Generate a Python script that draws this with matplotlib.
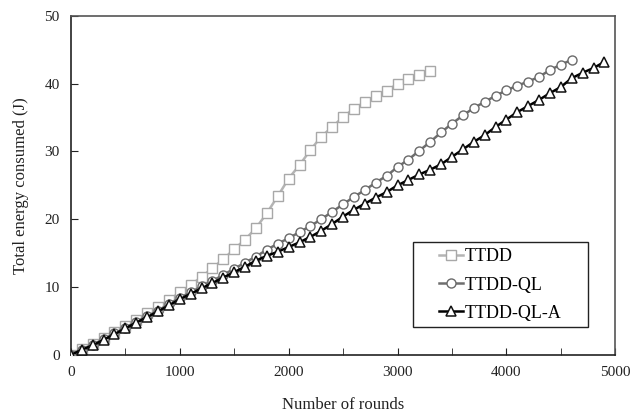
import numpy as np
import matplotlib
matplotlib.use("Agg")
import matplotlib.pyplot as plt
from matplotlib.ticker import MultipleLocator
from matplotlib.patches import Rectangle

plt.rcParams['font.family'] = ['Liberation Serif', 'DejaVu Serif']

rounds_ttdd = list(range(0, 3301, 100))
ttdd = [0, 0.8, 1.6, 2.5, 3.4, 4.3, 5.2, 6.1, 7.0, 8.1, 9.2, 10.3, 11.5, 12.8,
        14.1, 15.6, 17.0, 18.7, 20.9, 23.4, 26.0, 28.0, 30.2, 32.2, 33.6, 35.1,
        36.3, 37.3, 38.2, 38.9, 40.0, 40.7, 41.3, 41.9]

rounds_ql = list(range(0, 4601, 100))
ttdd_ql = [0, 0.75, 1.45, 2.3, 3.15, 4.0, 4.85, 5.7, 6.5, 7.5, 8.4, 9.2, 10.1,
           10.9, 11.8, 12.7, 13.6, 14.5, 15.5, 16.4, 17.2, 18.1, 19.0, 20.0,
           21.1, 22.2, 23.3, 24.3, 25.4, 26.4, 27.7, 28.8, 30.1, 31.4, 32.8,
           34.1, 35.3, 36.4, 37.3, 38.2, 39.0, 39.7, 40.3, 41.0, 42.0, 42.8, 43.5]

rounds_qla = list(range(0, 4901, 100))
ttdd_ql_a = [0, 0.75, 1.4, 2.2, 3.05, 3.9, 4.75, 5.55, 6.4, 7.3, 8.2, 9.0, 9.8,
             10.6, 11.4, 12.2, 13.0, 13.9, 14.6, 15.2, 15.9, 16.6, 17.4, 18.3,
             19.3, 20.4, 21.4, 22.3, 23.2, 24.0, 25.0, 25.8, 26.6, 27.3, 28.1,
             29.2, 30.3, 31.4, 32.4, 33.6, 34.7, 35.8, 36.7, 37.6, 38.6, 39.5,
             40.8, 41.6, 42.3, 43.2]

fig = plt.figure(figsize=(6.33, 4.16), dpi=100)
ax = fig.add_axes([0.112, 0.147, 0.86, 0.815])

ax.plot(rounds_ttdd, ttdd, color='#b4b4b4', lw=1.8, marker='s', ms=6.5,
        mfc='white', mec='#a8a8a8', mew=1.0, label='TTDD', zorder=2)
ax.plot(rounds_ql, ttdd_ql, color='#6e6e6e', lw=1.8, marker='o', ms=6.5,
        mfc='white', mec='#6a6a6a', mew=1.0, label='TTDD-QL', zorder=3)
ax.plot(rounds_qla, ttdd_ql_a, color='#000000', lw=1.8, marker='^', ms=7,
        mfc='white', mec='#111111', mew=1.1, label='TTDD-QL-A', zorder=4)

ax.set_xlim(0, 5000)
ax.set_ylim(0, 50)
ax.xaxis.set_major_locator(MultipleLocator(1000))
ax.xaxis.set_minor_locator(MultipleLocator(500))
ax.yaxis.set_major_locator(MultipleLocator(10))
ax.tick_params(axis='both', which='both', direction='in', labelsize=11,
               colors='#222222')
ax.tick_params(axis='x', which='major', length=5, pad=8)
ax.tick_params(axis='x', which='minor', length=5)
ax.tick_params(axis='y', which='major', length=5, pad=8)
ax.tick_params(top=False, right=False)

for s in ['left', 'bottom']:
    ax.spines[s].set_color('#222222')
    ax.spines[s].set_linewidth(1.2)
for s in ['top', 'right']:
    ax.spines[s].set_color('#555555')
    ax.spines[s].set_linewidth(1.2)

ax.set_xlabel('Number of rounds', fontsize=12, labelpad=13, color='#222222')
ax.set_ylabel('Total energy consumed (J)', fontsize=12, labelpad=11.5, color='#222222')

# legend frame
frame = Rectangle((0.629, 0.083), 0.32, 0.25, transform=ax.transAxes,
                  fill=True, facecolor='white', edgecolor='#222222', lw=1.0,
                  zorder=5)
ax.add_patch(frame)

leg = ax.legend(loc='center left', bbox_to_anchor=(0.676, 0.206), fontsize=13,
                frameon=False, handlelength=1.35, handletextpad=0.1,
                borderpad=0, labelspacing=0.62, borderaxespad=0)
leg.set_zorder(6)

fig.savefig('out.png', dpi=100)
